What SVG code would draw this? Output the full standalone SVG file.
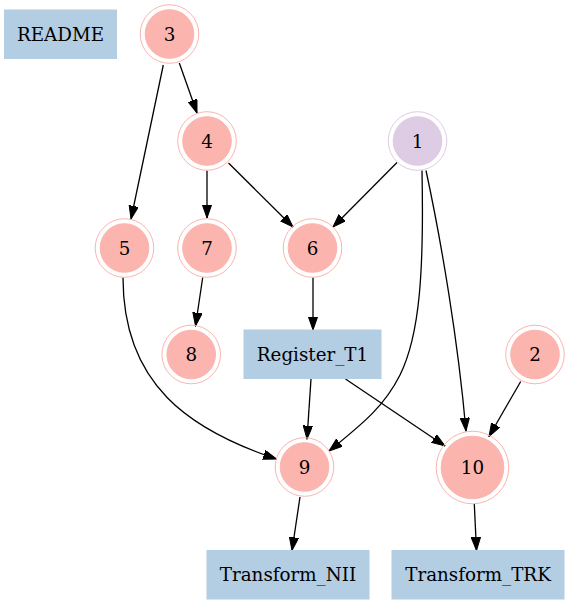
<svg xmlns="http://www.w3.org/2000/svg" width="570" height="605" viewBox="0 0 570 605">
<defs>
<style>
text{font-family:"DejaVu Serif","Liberation Serif",serif;font-size:18.3px;fill:#000;text-anchor:middle}
.box{fill:#b3cde3;stroke:#b3cde3}
.pk{fill:#fbb4ae;stroke:#fbb4ae}
.pko{fill:none;stroke:#fbb4ae;stroke-width:1}
.pu{fill:#decbe4;stroke:#decbe4}
.puo{fill:none;stroke:#decbe4;stroke-width:1}
.e{fill:none;stroke:#000;stroke-width:1.3;marker-end:url(#ah)}
</style>
<marker id="ah" markerUnits="userSpaceOnUse" markerWidth="14" markerHeight="10" refX="13.3" refY="4.67" orient="auto">
<path d="M0,0 L13.3,4.67 L0,9.33 z" fill="#000" stroke="#000" stroke-width="1"/>
</marker>
</defs>
<g id="edges">
<path class="e" d="M179.3,63 L197,113"/>
<path class="e" d="M163.3,65 L131,219"/>
<path class="e" d="M207,170.5 L207,218"/>
<path class="e" d="M228.5,163 L293,227"/>
<path class="e" d="M397,162.5 L333,227"/>
<path class="e" d="M422,170.5 C424,270 420,335 400,375 C385,405 365,422 329,451"/>
<path class="e" d="M426,170.5 C441,240 458,340 466,431"/>
<path class="e" d="M202.7,277.5 L195.5,326"/>
<path class="e" d="M313,277.5 L313,330"/>
<path class="e" d="M123,277.5 C123,385 190,430 276.5,459"/>
<path class="e" d="M311,379 L307,439"/>
<path class="e" d="M345.5,379 L445,446"/>
<path class="e" d="M520.7,381.5 L489,436.5"/>
<path class="e" d="M300,497 L292,550.5"/>
<path class="e" d="M474.3,504 L476.5,550.5"/>
</g>
<g id="README"><rect class="box" x="4.5" y="10" width="112" height="48.5"/><text x="60.5" y="40.5">README</text></g>
<g id="n3"><circle class="pko" cx="169.5" cy="34" r="29.3"/><circle class="pk" cx="169.5" cy="34" r="24.3"/><text x="169.5" y="40.5">3</text></g>
<g id="n4"><circle class="pko" cx="207" cy="141" r="29.3"/><circle class="pk" cx="207" cy="141" r="24.3"/><text x="207" y="147.5">4</text></g>
<g id="n1"><circle class="puo" cx="417.5" cy="141" r="29.3"/><circle class="pu" cx="417.5" cy="141" r="24.3"/><text x="417.5" y="147.5">1</text></g>
<g id="n5"><circle class="pko" cx="124.5" cy="248" r="29.3"/><circle class="pk" cx="124.5" cy="248" r="24.3"/><text x="124.5" y="254.5">5</text></g>
<g id="n7"><circle class="pko" cx="207" cy="248" r="29.3"/><circle class="pk" cx="207" cy="248" r="24.3"/><text x="207" y="254.5">7</text></g>
<g id="n6"><circle class="pko" cx="312.5" cy="248" r="29.3"/><circle class="pk" cx="312.5" cy="248" r="24.3"/><text x="312.5" y="254.5">6</text></g>
<g id="n8"><circle class="pko" cx="191.2" cy="354.5" r="29.3"/><circle class="pk" cx="191.2" cy="354.5" r="24.3"/><text x="191.2" y="361">8</text></g>
<g id="Register_T1"><rect class="box" x="244" y="330" width="137" height="48.5"/><text x="312.5" y="360.5">Register_T1</text></g>
<g id="n2"><circle class="pko" cx="535" cy="354.5" r="29.3"/><circle class="pk" cx="535" cy="354.5" r="24.3"/><text x="535" y="361">2</text></g>
<g id="n9"><circle class="pko" cx="304.5" cy="467" r="29.3"/><circle class="pk" cx="304.5" cy="467" r="24.3"/><text x="304.5" y="473.5">9</text></g>
<g id="n10"><circle class="pko" cx="472.5" cy="467.5" r="36.3"/><circle class="pk" cx="472.5" cy="467.5" r="31.3"/><text x="472.5" y="474">10</text></g>
<g id="Transform_NII"><rect class="box" x="207" y="550.5" width="162" height="48.5"/><text x="288" y="581">Transform_NII</text></g>
<g id="Transform_TRK"><rect class="box" x="392" y="550.5" width="172" height="48.5"/><text x="478" y="581">Transform_TRK</text></g>
</svg>
